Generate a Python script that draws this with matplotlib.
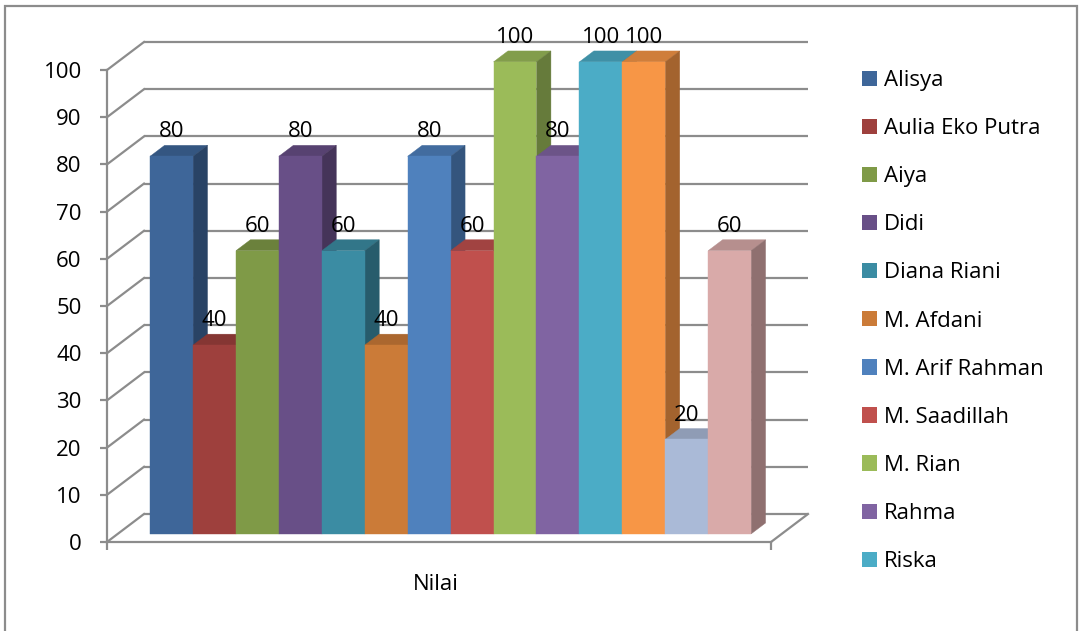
import matplotlib
matplotlib.use("Agg")
import matplotlib.pyplot as plt
from matplotlib.patches import Polygon, Patch, Rectangle
from matplotlib.transforms import offset_copy
from matplotlib.colors import to_rgb
import numpy as np

# ---- data ----
names = ["Alisya", "Aulia Eko Putra", "Aiya", "Didi", "Diana Riani", "M. Afdani",
         "M. Arif Rahman", "M. Saadillah", "M. Rian", "Rahma", "Riska"]
values = [80, 40, 60, 80, 60, 40, 80, 60, 100, 80, 100, 100, 20, 60]
colors = ["#3E6699", "#9E403D", "#7F9A47", "#684F87", "#3B8CA3", "#CB7B38",
          "#4F81BD", "#C0504D", "#9BBB59", "#8064A2", "#4BACC6", "#F79646",
          "#AABAD7", "#D9AAA9"]
category = "Nilai"
yticks = list(range(0, 101, 10))

# ---- style ----
plt.rcParams['font.family'] = ['Open Sans', 'DejaVu Sans']
FS = 16
GRID = "#8c8c8c"
DX, DY = 37.0, 28.0          # wall depth in pixels (oblique projection)
D0, D1 = 0.29, 0.68           # bar depth range (fraction of wall depth)
XL, XR = -0.755, 14.713

W, H = 1080, 631
fig = plt.figure(figsize=(W / 100, H / 100), dpi=100)
ax = fig.add_axes([107 / W, (H - 542) / H, (771 - 107) / W, (542 - 70) / H])
ax.set_xlim(XL, XR)
ax.set_ylim(0, 100)


def proj(x, v, d):
    p = ax.transData.transform((x, v)) + np.array([d * DX, d * DY])
    return ax.transData.inverted().transform(p)


def shade(c, f):
    r, g, b = to_rgb(c)
    return (r * f, g * f, b * f)


# back wall gridlines and left wall diagonals
for v in yticks:
    a, b = proj(XL, v, 1), proj(XR, v, 1)
    ax.plot([a[0], b[0]], [a[1], b[1]], color=GRID, lw=1.6, clip_on=False, zorder=1,
            solid_capstyle='butt')
    f = proj(XL, v, 0)
    ax.plot([f[0], a[0]], [f[1], a[1]], color=GRID, lw=1.6, clip_on=False, zorder=1)
# floor right edge
a, b = proj(XR, 0, 0), proj(XR, 0, 1)
ax.plot([a[0], b[0]], [a[1], b[1]], color=GRID, lw=1.6, clip_on=False, zorder=1)

# bars
front_tr = offset_copy(ax.transData, fig=fig, x=D0 * DX, y=D0 * DY, units='dots')
for i, (v, c) in enumerate(zip(values, colors)):
    x0, x1 = i, i + 1
    z = 3 + i * 0.01
    top = [proj(x0, v, D0), proj(x1, v, D0), proj(x1, v, D1), proj(x0, v, D1)]
    side = [proj(x1, 0, D0), proj(x1, 0, D1), proj(x1, v, D1), proj(x1, v, D0)]
    ax.add_patch(Polygon(top, closed=True, facecolor=shade(c, 0.84), edgecolor=shade(c, 0.84),
                         lw=0.3, clip_on=False, zorder=z))
    ax.add_patch(Polygon(side, closed=True, facecolor=shade(c, 0.66), edgecolor=shade(c, 0.66),
                         lw=0.3, clip_on=False, zorder=z))
    ax.bar(x0, v, width=1, align='edge', color=c, edgecolor=c, lw=0.3,
           transform=front_tr, clip_on=False, zorder=z + 0.005)
    ax.annotate(str(v), xy=(i + 0.5, v), xytext=(D0 * DX, D1 * DY + 8),
                textcoords='offset pixels', ha='center', va='baseline', fontsize=FS,
                color='black', zorder=20, annotation_clip=False)

ax.set_xlim(XL, XR)
ax.set_ylim(0, 100)

# axes styling
for s in ['top', 'right']:
    ax.spines[s].set_visible(False)
for s in ['left', 'bottom']:
    ax.spines[s].set_color(GRID)
    ax.spines[s].set_linewidth(1.6)
    ax.spines[s].set_zorder(2)
ax.set_facecolor('none')
ax.set_yticks(yticks)
ax.set_yticklabels([str(t) for t in yticks])
ax.set_xticks([XL, XR])
ax.set_xticklabels(["", ""])
ax.tick_params(axis='y', direction='out', length=5.2, width=1.6, color=GRID,
               labelsize=FS, pad=13)
ax.tick_params(axis='x', direction='out', length=5.5, width=1.6, color=GRID)

ax.annotate(category, xy=((XL + XR) / 2, 0), xytext=(-3, -42), textcoords='offset pixels',
            ha='center', va='center', fontsize=FS, annotation_clip=False)

# legend
handles = [Patch(facecolor=colors[k], edgecolor='none') for k in range(len(names))]
fig.legend(handles, names, loc='upper left', bbox_to_anchor=(862 / W, 1 - 70 / H),
           frameon=False, fontsize=FS, handlelength=0.68, handleheight=0.68,
           handletextpad=0.3, labelspacing=1.22, borderpad=0, borderaxespad=0)

# outer border
fig.add_artist(Rectangle((4.5 / W, -0.05), (1077 - 4.5) / W, 1.05 - 6 / H,
                         transform=fig.transFigure, fill=False, edgecolor=GRID, lw=1.6))

fig.savefig("out.png", dpi=100)
